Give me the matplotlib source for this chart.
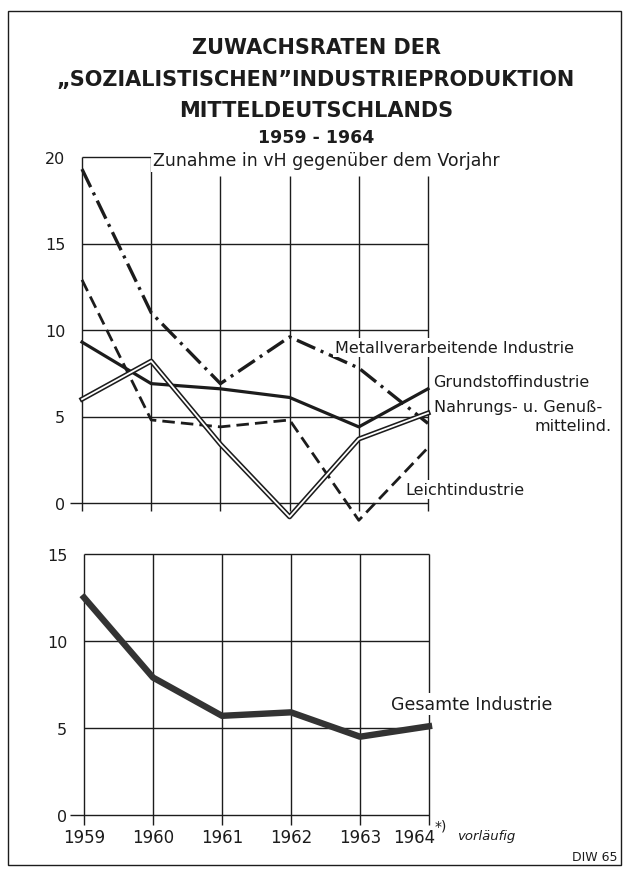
import numpy as np
import matplotlib
matplotlib.use("Agg")
import matplotlib.pyplot as plt
from matplotlib.patches import Rectangle
import matplotlib.transforms as mtransforms

plt.rcParams['font.family'] = ['DejaVu Sans']

# data (Zunahme in vH gegenüber dem Vorjahr)
years = [1959, 1960, 1961, 1962, 1963, 1964]
metall = [19.3, 11.0, 6.9, 9.6, 7.8, 4.6]
grundstoff = [9.3, 6.9, 6.6, 6.1, 4.4, 6.6]
nahrung = [6.0, 8.2, 3.4, -0.8, 3.7, 5.2]
leicht = [12.9, 4.8, 4.4, 4.8, -1.0, 3.2]
gesamt = [12.5, 7.9, 5.7, 5.9, 4.5, 5.1]

top_ticks = [0, 5, 10, 15, 20]
bottom_ticks = [0, 5, 10, 15]
year_labels = ["1959", "1960", "1961", "1962", "1963", "1964"]

W, H = 632, 870
fig = plt.figure(figsize=(W / 100, H / 100), dpi=100)
ink = '#1c1c1c'


def px_axes(x0, x1, ytop, ybot):
    return fig.add_axes([x0 / W, (H - ybot) / H, (x1 - x0) / W, (ybot - ytop) / H])


def shift(axis, dx_px, dy_px):
    # offset in pixels from a data point (dpi 100 -> 0.72 pt per px)
    return mtransforms.offset_copy(axis.transData, fig=fig, x=dx_px * 0.72, y=dy_px * 0.72, units='points')


# frame around the whole chart
fig.add_artist(Rectangle((8 / W, 4 / H), 613 / W, (H - 12 - 4) / H, transform=fig.transFigure,
                         fill=False, lw=1.0, ec=ink))

# title
fig.text(0.5, (H - 48) / H, "ZUWACHSRATEN DER", ha='center', va='center',
         fontsize=15, fontweight='bold', color=ink)
fig.text(0.5, (H - 80) / H, "\u201eSOZIALISTISCHEN\u201dINDUSTRIEPRODUKTION", ha='center', va='center',
         fontsize=15, fontweight='bold', color=ink)
fig.text(0.5, (H - 111) / H, "MITTELDEUTSCHLANDS", ha='center', va='center',
         fontsize=15, fontweight='bold', color=ink)
fig.text(0.5, (H - 138) / H, "1959 - 1964", ha='center', va='center',
         fontsize=12.5, fontweight='bold', color=ink)

# ---------------- top panel ----------------
ax = px_axes(82, 428, 158, 504)
ax.set_xlim(1959, 1964)
ax.set_ylim(0, 20)
for s in ax.spines.values():
    s.set_visible(False)

glw = 1.0
ax.hlines([5, 10, 15], 1959, 1964, color=ink, lw=glw, clip_on=False)
ax.hlines(0, 1958.83, 1964, color=ink, lw=glw, clip_on=False)
ax.hlines(20, 1959, 1960, color=ink, lw=glw, clip_on=False)
ax.vlines([1959, 1960], -0.45, 20, color=ink, lw=glw, clip_on=False)
ax.vlines(years[2:], -0.45, 18.9, color=ink, lw=glw, clip_on=False)

ax.plot(years, metall, color=ink, lw=2.4, dashes=(6, 1.8, 0.9, 1.8), clip_on=False, zorder=3)
ax.plot(years, grundstoff, color=ink, lw=2.3, clip_on=False, zorder=3)
ax.plot(years, nahrung, color=ink, lw=3.6, clip_on=False, zorder=3)
ax.plot(years, nahrung, color='white', lw=1.3, clip_on=False, zorder=3.5)
ax.plot(years, leicht, color=ink, lw=2.0, dashes=(4.5, 2.2), clip_on=False, zorder=3)

ax.set_xticks([])
ax.set_yticks(top_ticks)
ax.set_yticklabels([str(t) for t in top_ticks], fontsize=11.5, color=ink)
ax.tick_params(axis='y', length=0, pad=12)

box = dict(facecolor='white', edgecolor='none', pad=1.5)
lab_fs = 11.5
ax.text(1960.02, 19.8, "Zunahme in vH gegenüber dem Vorjahr", ha='left', va='center',
        fontsize=12.5, color=ink, bbox=box, zorder=5)
ax.text(1962.66, 9.0, "Metallverarbeitende Industrie", ha='left', va='center',
        fontsize=lab_fs, color=ink, bbox=box, zorder=5)
ax.text(1964.07, 7.0, "Grundstoffindustrie", ha='left', va='center',
        fontsize=lab_fs, color=ink, zorder=5)
ax.text(1964.08, 5.6, "Nahrungs- u. Genuß-", ha='left', va='center',
        fontsize=lab_fs, color=ink, zorder=5)
ax.text(1966.66, 4.5, "mittelind.", ha='right', va='center',
        fontsize=lab_fs, color=ink, zorder=5)
ax.text(1963.67, 0.8, "Leichtindustrie", ha='left', va='center',
        fontsize=lab_fs, color=ink, bbox=box, zorder=5)

# ---------------- bottom panel ----------------
bx = px_axes(84, 429, 555, 816)
bx.set_xlim(1959, 1964)
bx.set_ylim(0, 15)
for s in bx.spines.values():
    s.set_visible(False)

bx.hlines([5, 10, 15], 1959, 1964, color=ink, lw=glw, clip_on=False)
bx.hlines(0, 1958.8, 1964, color=ink, lw=glw, clip_on=False)
bx.vlines(years, -0.55, 15, color=ink, lw=glw, clip_on=False)

bx.plot(years, gesamt, color='#333333', lw=4.6, solid_joinstyle='round', clip_on=False, zorder=3)

bx.set_xticks([])
bx.set_yticks(bottom_ticks)
bx.set_yticklabels([str(t) for t in bottom_ticks], fontsize=11.5, color=ink)
bx.tick_params(axis='y', length=0, pad=12)

bx.text(1963.45, 6.4, "Gesamte Industrie", ha='left', va='center',
        fontsize=12.5, color=ink, bbox=box, zorder=5)

# year labels under the bottom panel
for yr, lab in zip(years, year_labels):
    dx = -15 if yr == years[-1] else 0
    bx.text(yr, 0, lab, transform=shift(bx, dx, -22),
            ha='center', va='center', fontsize=12, color=ink, clip_on=False)
bx.text(years[-1], 0, "*)", transform=shift(bx, 6, -11),
        ha='left', va='center', fontsize=10, color=ink)
bx.text(years[-1], 0, "vorläufig", transform=shift(bx, 28, -21),
        ha='left', va='center', fontsize=9.5, style='italic', color=ink)

fig.text(618 / W, (H - 858) / H, "DIW 65", ha='right', va='center', fontsize=9, color=ink)

fig.savefig("out.png", dpi=100)
